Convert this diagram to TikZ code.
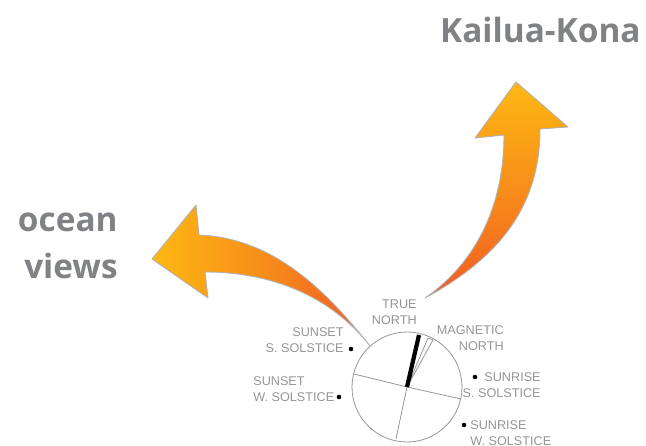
\documentclass[tikz,border=0pt]{standalone}
\usepackage{fontspec}
\setmainfont{Liberation Sans}
\newfontfamily\titlefont{Open Sans}
\definecolor{arrowtip}{HTML}{FDB813}
\definecolor{arrowbase}{HTML}{F15A22}
\definecolor{labelgray}{HTML}{808285}
\definecolor{compassgray}{HTML}{959595}

\begin{document}
\begin{tikzpicture}[x=0.02cm,y=-0.02cm,
	bigarrow/.style={draw=gray!60, line width=0.5pt, line join=round},
	placename/.style={font=\titlefont\bfseries\fontsize{19}{27}\selectfont, text=labelgray, inner sep=0pt},
	compasslabel/.style={font=\fontsize{7.2}{8.8}\selectfont, text=compassgray, inner sep=0pt},
	solsticedot/.style={circle, fill=black, inner sep=0pt, minimum size=2.6pt},
	compassline/.style={draw=compassgray, line width=0.45pt}]

\pgfmathsetmacro{\compassrad}{55}

\useasboundingbox (0,0) rectangle (646,446);

% ARROWS
\draw[bigarrow, left color=arrowtip, right color=arrowbase, middle color=arrowbase!45!arrowtip]
	(152,259) -- (196,205) -- (199,235)
	.. controls (270,238) and (322,285) .. (370,346)
	.. controls (330,295) and (270,272) .. (205,272)
	-- (208,298) -- cycle;

\draw[bigarrow, top color=arrowtip, bottom color=arrowbase, middle color=arrowbase!45!arrowtip]
	(516,82) -- (568,127) -- (540,129)
	.. controls (540,210) and (495,260) .. (425,298)
	.. controls (480,260) and (504,200) .. (504,135)
	-- (475,138) -- cycle;

% NODES
\node(kona)[placename, anchor=east] at (641,30) {Kailua-Kona};
\node(ocean)[placename, anchor=east, align=right] at (118,246) {ocean\\views};

\node(compass)[draw=compassgray, line width=0.45pt, circle, minimum size=2*\compassrad*0.02cm, inner sep=0pt] at (407,387) {};

\node(truenorth)[compasslabel, align=right, anchor=east] at (417,312) {TRUE\\NORTH};
\node(magnetic)[compasslabel, align=right, anchor=east] at (504,338) {MAGNETIC\\NORTH};
\node(sunsetS)[compasslabel, align=right, anchor=east] at (344,340) {SUNSET\\S. SOLSTICE};
\node(sunsetW)[compasslabel, align=left, anchor=west] at (253,389) {SUNSET\\W. SOLSTICE};
\node(sunriseS)[compasslabel, align=right, anchor=east] at (541,385) {SUNRISE\\S. SOLSTICE};
\node(sunriseW)[compasslabel, align=left, anchor=west] at (470,433) {SUNRISE\\W. SOLSTICE};

\node(dotSS)[solsticedot] at (351,349) {};
\node(dotWS)[solsticedot] at (339,397) {};
\node(dotSR)[solsticedot] at (475,377) {};
\node(dotWR)[solsticedot] at (464,425) {};

% COMPASS
\coordinate(hub) at (407,387);
\coordinate(west) at (354,374);
\coordinate(east) at (461,399);
\coordinate(south) at (396,439);

\draw[compassline] (west) -- (hub) -- (east);
\draw[compassline] (hub) -- (south);

% magnetic needle
\draw[compassline, fill=white] (hub) -- (428,338) -- (433,340) -- cycle;
% true needle
\draw[line width=2.4pt, black] (hub) -- (419,335);

\end{tikzpicture}
\end{document}
